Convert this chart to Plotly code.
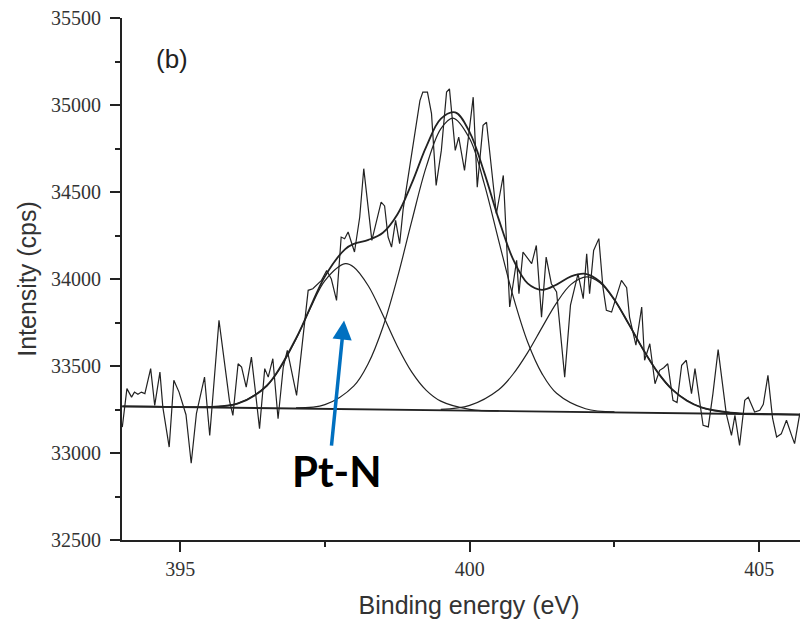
import plotly.graph_objects as go

# ---- measured spectrum (binding energy, eV / intensity, cps) ----
raw_e = [394.00, 394.08, 394.16, 394.21, 394.27, 394.33, 394.39, 394.49, 394.56, 394.65,
         394.70, 394.81, 394.89, 394.98, 395.10, 395.19, 395.28, 395.42, 395.51, 395.67,
         395.85, 395.91, 396.00, 396.06, 396.14, 396.23, 396.29, 396.37, 396.46, 396.52,
         396.60, 396.69, 396.78, 396.85, 397.01, 397.21, 397.29, 397.44, 397.53, 397.61,
         397.70, 397.78, 397.84, 397.90, 398.01, 398.10, 398.17, 398.31, 398.47, 398.53,
         398.59, 398.65, 398.72, 398.79, 398.85, 399.14, 399.19, 399.27, 399.34, 399.42,
         399.51, 399.60, 399.65, 399.75, 399.81, 399.91, 400.06, 400.13, 400.23, 400.29,
         400.46, 400.58, 400.69, 400.81, 400.85, 400.92, 401.07, 401.15, 401.24, 401.32,
         401.41, 401.50, 401.64, 401.74, 401.87, 401.96, 402.02, 402.07, 402.14, 402.23,
         402.30, 402.36, 402.45, 402.62, 402.71, 402.76, 402.87, 402.97, 403.02, 403.11,
         403.20, 403.28, 403.35, 403.42, 403.51, 403.58, 403.66, 403.74, 403.83, 403.89,
         404.03, 404.12, 404.20, 404.29, 404.43, 404.52, 404.58, 404.66, 404.75, 404.81,
         404.92, 405.01, 405.07, 405.15, 405.23, 405.30, 405.38, 405.47, 405.56, 405.61,
         405.70, 405.76, 405.84]
raw_i = [33149, 33370, 33321, 33350, 33337, 33350, 33341, 33485, 33274, 33465,
         33264, 33034, 33418, 33350, 33220, 32941, 33226, 33436, 33101, 33762,
         33302, 33216, 33513, 33494, 33379, 33551, 33379, 33140, 33485, 33436,
         33542, 33197, 33494, 33590, 33331, 33935, 33944, 33992, 34049, 34000,
         33877, 34241, 34231, 34270, 34155, 34355, 34634, 34222, 34442, 34420,
         34241, 34183, 34337, 34203, 34400, 35025, 35074, 35074, 34950, 34538,
         34739, 35074, 35093, 34739, 34815, 34624, 35045, 34528, 34883, 34901,
         34375, 34595, 33839, 34107, 33916, 34155, 34088, 34193, 33781, 34126,
         33973, 33925, 33436, 33850, 34030, 33887, 34145, 33916, 34164, 34232,
         33953, 33820, 33810, 33992, 33950, 33781, 33620, 33839, 33533, 33628,
         33398, 33475, 33490, 33513, 33303, 33290, 33504, 33533, 33341, 33485,
         33159, 33150, 33341, 33594, 33226, 33101, 33216, 33044, 33303, 33321,
         33235, 33245, 33280, 33446, 33200, 33092, 33110, 33188, 33100, 33054,
         33226, 33180, 33283]

# ---- linear background ----
base_e = [394.00, 405.98]
base_i = [33268, 33219]

# ---- fitted envelope ----
env_e = [394.0, 394.5, 395.0, 395.5, 396.0, 396.5, 397.0, 397.5, 397.85, 398.0,
         398.25, 398.5, 398.75, 399.0, 399.25, 399.5, 399.75, 400.0, 400.25, 400.5,
         400.75, 401.0, 401.25, 401.5, 401.75, 402.0, 402.25, 402.5, 402.75, 403.0,
         403.25, 403.5, 403.75, 404.0, 404.5, 405.0, 405.5, 405.98]
env_i = [33268, 33266, 33264, 33265, 33285, 33388, 33658, 34015, 34172, 34202,
         34225, 34266, 34371, 34551, 34761, 34920, 34957, 34843, 34613, 34344,
         34113, 33975, 33938, 33968, 34015, 34030, 33985, 33881, 33739, 33592,
         33462, 33364, 33300, 33262, 33232, 33225, 33222, 33219]

# ---- fitted components ----
p1_e = [395.5, 396.0, 396.5, 396.75, 397.0, 397.25, 397.5, 397.85, 398.0, 398.25,
        398.5, 398.75, 399.0, 399.25, 399.5, 400.0, 400.5]
p1_i = [33265, 33285, 33388, 33500, 33655, 33833, 33991, 34088, 34068, 33960,
        33793, 33614, 33465, 33360, 33298, 33251, 33242]

p2_e = [397.0, 397.5, 398.0, 398.25, 398.5, 398.75, 399.0, 399.25, 399.5, 399.71,
        400.0, 400.25, 400.5, 400.75, 401.0, 401.25, 401.5, 402.0, 402.5]
p2_i = [33259, 33278, 33386, 33516, 33723, 34006, 34334, 34646, 34863, 34925,
        34806, 34548, 34221, 33900, 33638, 33455, 33343, 33254, 33236]

p3_e = [399.5, 400.0, 400.5, 400.75, 401.0, 401.25, 401.5, 401.75, 402.02, 402.25,
        402.5, 402.75, 403.0, 403.25, 403.5, 404.0, 404.5, 405.0]
p3_i = [33251, 33274, 33364, 33454, 33577, 33722, 33863, 33969, 34012, 33979,
        33879, 33739, 33592, 33462, 33364, 33262, 33232, 33224]

y_ticks = [32500, 33000, 33500, 34000, 34500, 35000, 35500]
y_tick_text = ["32500", "33000", "33500", "34000", "34500", "35000", "35500"]
y_minor = [32750, 33250, 33750, 34250, 34750, 35250]
x_ticks = [395, 400, 405]
x_tick_text = ["395", "400", "405"]
x_minor = [397.5, 402.5]

LINE = "#222222"
fig = go.Figure()
for ex, iy in [(p1_e, p1_i), (p2_e, p2_i), (p3_e, p3_i)]:
    fig.add_trace(go.Scatter(x=ex, y=iy, mode="lines", line=dict(color=LINE, width=1.2, shape="spline"),
                             showlegend=False, hoverinfo="skip"))
fig.add_trace(go.Scatter(x=base_e, y=base_i, mode="lines", line=dict(color=LINE, width=1.8),
                         showlegend=False))
fig.add_trace(go.Scatter(x=raw_e, y=raw_i, mode="lines", line=dict(color=LINE, width=1.2),
                         showlegend=False))
fig.add_trace(go.Scatter(x=env_e, y=env_i, mode="lines", line=dict(color=LINE, width=1.8, shape="spline"),
                         showlegend=False))

tickfont = dict(family="Liberation Serif", size=20, color="#333")
titlefont = dict(family="Liberation Sans", size=25, color="#333")

# the page body adds an 8 px offset; margins compensate so the axes land where the reference has them
fig.update_layout(
    width=808, height=623,
    margin=dict(l=114, r=0, t=10, b=91),
    paper_bgcolor="white", plot_bgcolor="white",
    xaxis=dict(range=[393.995, 405.98], tickvals=x_ticks, ticktext=x_tick_text, ticks="outside",
               ticklen=10, tickwidth=1.5, tickcolor="#222", showline=True, linewidth=1.8,
               linecolor="#222", showgrid=False, zeroline=False, tickfont=tickfont,
               ticklabeloverflow="allow",
               minor=dict(tickvals=x_minor, ticks="outside", ticklen=5, tickwidth=1.5, tickcolor="#222",
                          showgrid=False),
               title=dict(text="Binding energy (eV)", font=titlefont, standoff=18)),
    yaxis=dict(range=[32500, 35500], tickvals=y_ticks, ticktext=y_tick_text, ticks="outside",
               ticklen=10, tickwidth=1.5, tickcolor="#222", showline=True, linewidth=1.8,
               linecolor="#222", showgrid=False, zeroline=False, tickfont=tickfont,
               ticklabelstandoff=5, ticklabeloverflow="allow",
               minor=dict(tickvals=y_minor, ticks="outside", ticklen=5, tickwidth=1.5, tickcolor="#222",
                          showgrid=False),
               title=dict(text="Intensity (cps)", font=titlefont, standoff=7)),
)

fig.add_annotation(x=394.85, y=35262, xref="x", yref="y", text="(b)", showarrow=False,
                   font=dict(family="Liberation Sans", size=26, color="#222"))
fig.add_annotation(x=397.7, y=32895, xref="x", yref="y", text="<b>Pt-N</b>", showarrow=False,
                   font=dict(family="Lato", size=42, color="black"))
fig.add_annotation(x=397.83, y=33762, xref="x", yref="y", ax=397.61, ay=33034, axref="x", ayref="y",
                   text="", showarrow=True, arrowhead=2, arrowsize=1.1, arrowwidth=3.5,
                   arrowcolor="#0070C0", standoff=0)

fig.write_html("out.html")
